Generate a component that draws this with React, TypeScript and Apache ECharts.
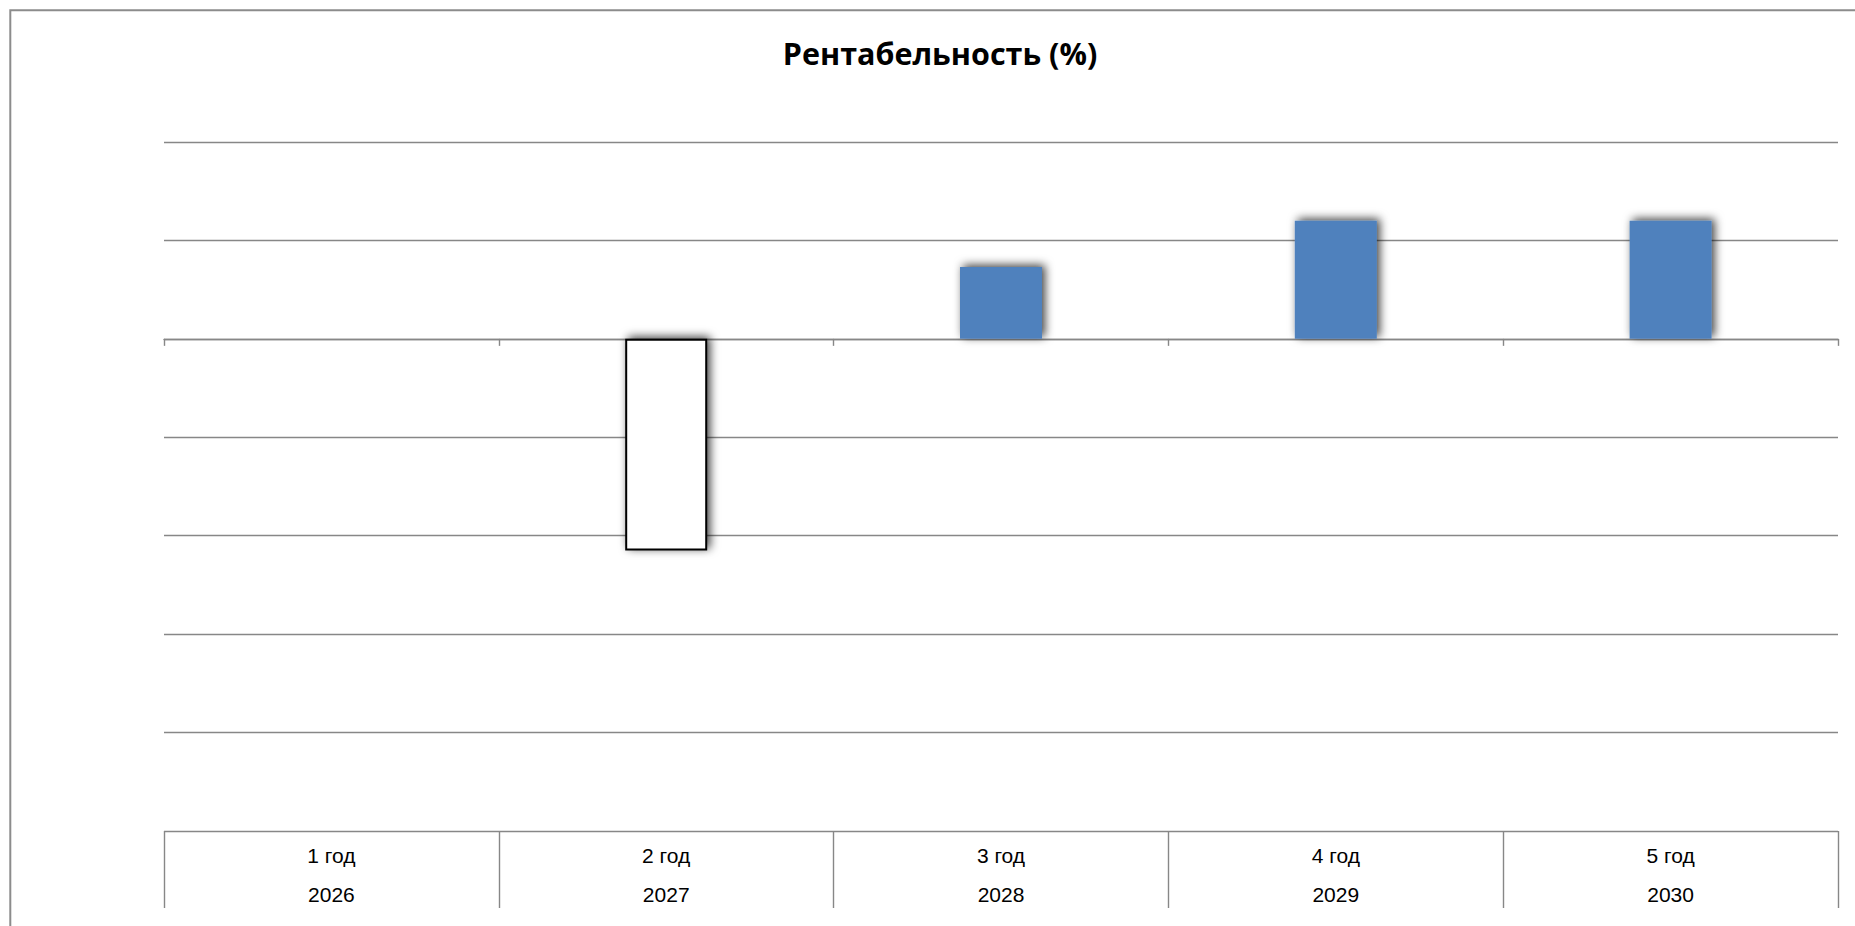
import React, { useEffect, useRef } from "react";
import * as echarts from "echarts";

const yearLabels = ["1 год", "2 год", "3 год", "4 год", "5 год"];
const calendarYears = ["2026", "2027", "2028", "2029", "2030"];
const profitability: (number | null)[] = [null, -21.5, 7.3, 12.0, 12.0];
const yMin = -50;
const yMax = 20;
const yInterval = 10;
const chartTitle = "Рентабельность (%)";

const GRID_COLOR = "#878787";

export default function App() {
  const ref = useRef<HTMLDivElement>(null);
  useEffect(() => {
    document.body.style.margin = "0";
    document.body.style.overflow = "hidden";
    const chart = echarts.init(ref.current!, undefined, { renderer: "svg" });
    const shadow = {
      shadowColor: "rgba(0,0,0,0.75)",
      shadowBlur: 10,
      shadowOffsetX: 3,
      shadowOffsetY: -2,
    };
    chart.setOption({
      animation: false,
      backgroundColor: "#ffffff",
      graphic: [
        {
          type: "rect",
          silent: true,
          shape: { x: 10.3, y: 10.3, width: 2000, height: 2000 },
          style: { fill: "none", stroke: "#8c8c8c", lineWidth: 2 },
        },
        {
          type: "text",
          x: 940,
          y: 53,
          style: {
            text: chartTitle,
            fontFamily: "Open Sans",
            fontWeight: "bold",
            fontSize: 30.5,
            fill: "#000",
            align: "center",
            verticalAlign: "middle",
          },
        },
      ],
      grid: { left: 164, right: 17, top: 142, bottom: 95, containLabel: false },
      xAxis: [
        {
          type: "category",
          data: yearLabels,
          position: "bottom",
          boundaryGap: true,
          axisLine: { show: true, onZero: true, lineStyle: { color: GRID_COLOR, width: 1.4 } },
          axisTick: { show: true, length: 7, alignWithLabel: false, lineStyle: { color: GRID_COLOR, width: 1.4 } },
          axisLabel: { show: false },
          splitLine: { show: false },
        },
        {
          type: "category",
          data: yearLabels,
          position: "bottom",
          boundaryGap: true,
          axisLine: { show: false, onZero: false },
          axisTick: { show: true, length: 77, lineStyle: { color: GRID_COLOR, width: 1.4 } },
          axisLabel: {
            show: true,
            interval: 0,
            margin: 5,
            fontFamily: "Liberation Sans",
            fontSize: 21,
            lineHeight: 39,
            color: "#000",
            formatter: (_v: string, i: number) => `${yearLabels[i]}\n${calendarYears[i]}`,
          },
          splitLine: { show: false },
        },
      ],
      yAxis: {
        type: "value",
        min: yMin,
        max: yMax,
        interval: yInterval,
        axisLine: { show: false },
        axisTick: { show: false },
        axisLabel: { show: false },
        splitLine: { show: true, lineStyle: { color: GRID_COLOR, width: 1.4 } },
      },
      series: [
        {
          type: "bar",
          xAxisIndex: 0,
          barWidth: 82,
          data: profitability.map((v) =>
            v === null
              ? null
              : v < 0
              ? { value: v, itemStyle: { color: "#ffffff", borderColor: "#000000", borderWidth: 2, ...shadow } }
              : { value: v, itemStyle: { color: "#4F81BD", ...shadow } }
          ),
        },
      ],
    });
    return () => chart.dispose();
  }, []);
  return <div ref={ref} style={{ width: 1855, height: 926 }} />;
}
